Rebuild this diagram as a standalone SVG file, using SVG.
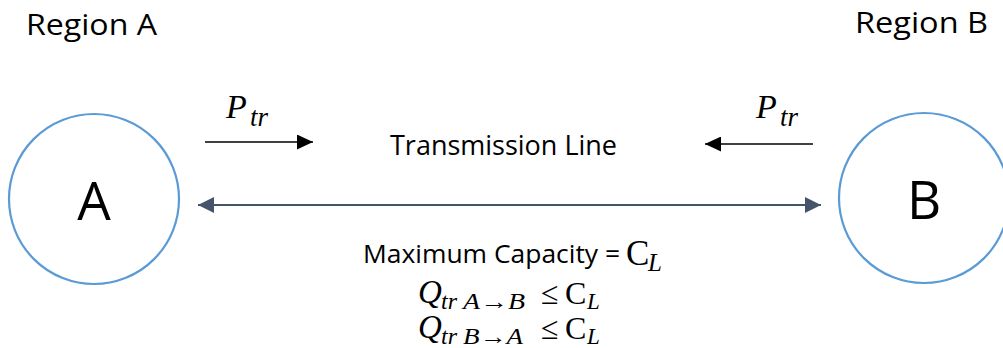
<svg xmlns="http://www.w3.org/2000/svg" width="1003" height="348" viewBox="0 0 1003 348">
<style>
.node{fill:#fff;stroke:#5B9BD5;stroke-width:2.2}
.lbl{font-family:"Open Sans",Lato,sans-serif;fill:#000}
.mi{font-family:"Liberation Serif","DejaVu Serif",serif;font-style:italic;fill:#000}
.mr{font-family:"Liberation Serif","DejaVu Serif",serif;fill:#000}
</style>
<defs>
<marker id="ahD" viewBox="0 0 16 16" markerWidth="16" markerHeight="16" refX="16" refY="8" orient="auto-start-reverse" markerUnits="userSpaceOnUse"><path d="M0,0 L16,8 L0,16 Z" fill="#44546A"/></marker>
<marker id="ahK" viewBox="0 0 16 15" markerWidth="16" markerHeight="15" refX="16" refY="7.5" orient="auto" markerUnits="userSpaceOnUse"><path d="M0,0 L16,7.5 L0,15 Z" fill="#000"/></marker>
</defs>
<text class="lbl" x="26" y="35" font-size="30" textLength="131" lengthAdjust="spacingAndGlyphs">Region A</text>
<text class="lbl" x="855" y="33" font-size="30" textLength="133" lengthAdjust="spacingAndGlyphs">Region B</text>
<g id="nodeA"><circle class="node" cx="94" cy="199" r="85"/><text class="lbl" x="94" y="220" font-size="53" text-anchor="middle">A</text></g>
<g id="nodeB"><circle class="node" cx="924" cy="198" r="85"/><text class="lbl" x="924" y="219" font-size="53" text-anchor="middle">B</text></g>
<g id="connectors">
<line x1="198" y1="205" x2="821" y2="205" stroke="#44546A" stroke-width="2" marker-start="url(#ahD)" marker-end="url(#ahD)"/>
<line x1="205" y1="142" x2="313" y2="142" stroke="#000" stroke-width="1.5" marker-end="url(#ahK)"/>
<line x1="813" y1="144" x2="705" y2="144" stroke="#000" stroke-width="1.5" marker-end="url(#ahK)"/>
</g>
<text class="mi" x="226" y="118" font-size="34">P</text>
<text class="mi" x="250" y="126" font-size="27">tr</text>
<text class="mi" x="756" y="118" font-size="34">P</text>
<text class="mi" x="780" y="126" font-size="27">tr</text>
<text class="lbl" x="390" y="155" font-size="28" textLength="227" lengthAdjust="spacingAndGlyphs">Transmission Line</text>
<text class="lbl" x="363" y="263" font-size="25" textLength="257" lengthAdjust="spacingAndGlyphs">Maximum Capacity =</text>
<text class="mr" x="626" y="265" font-size="35">C</text>
<text class="mi" x="648" y="271" font-size="25">L</text>
<text class="mi" x="418" y="303" font-size="33">Q</text>
<text class="mi" x="441" y="309" font-size="24">tr</text>
<text class="mi" x="463" y="309" font-size="23" textLength="62" lengthAdjust="spacingAndGlyphs">A→B</text>
<text class="mr" x="541" y="304" font-size="32">≤</text>
<text class="mr" x="565" y="304" font-size="32">C</text>
<text class="mi" x="587" y="309" font-size="23">L</text>
<text class="mi" x="418" y="338" font-size="33">Q</text>
<text class="mi" x="441" y="344" font-size="24">tr</text>
<text class="mi" x="463" y="344" font-size="23" textLength="60" lengthAdjust="spacingAndGlyphs">B→A</text>
<text class="mr" x="541" y="339" font-size="32">≤</text>
<text class="mr" x="565" y="339" font-size="32">C</text>
<text class="mi" x="587" y="344" font-size="23">L</text>
</svg>
